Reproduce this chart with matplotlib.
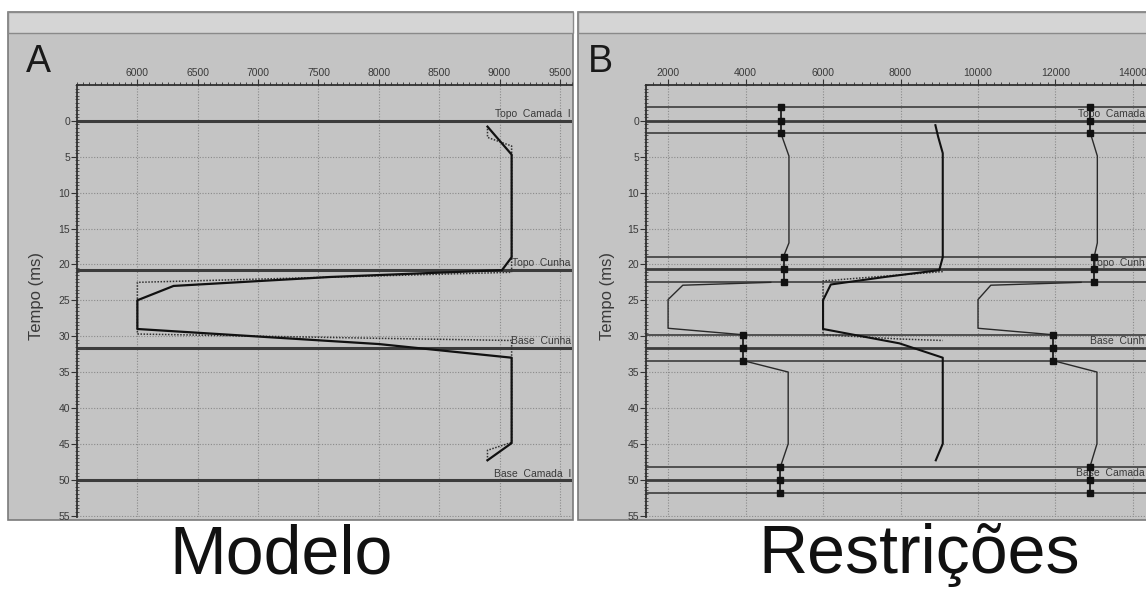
import matplotlib.pyplot as plt
from matplotlib.patches import Rectangle
from matplotlib.ticker import MultipleLocator, FixedLocator
import numpy as np

plt.rcParams['font.family'] = ['Liberation Sans', 'DejaVu Sans']

# ---- data ----
# panel A: model
layer_t = [0.0, 20.8, 31.6, 50.1]
layer_names = ['Topo  Camada  I', 'Topo  Cunha', 'Base  Cunha', 'Base  Camada  I']

model_t = [0.8, 4.7, 19.0, 20.8, 21.75, 23.0, 25.0, 29.0, 31.1, 33.0, 44.9, 47.3]
model_v = [8900, 9100, 9100, 9020, 7600, 6300, 6000, 6000, 8000, 9100, 9100, 8900]

init_t = [1.1, 2.3, 3.5, 21.1, 22.5, 29.7, 30.3, 30.6, 44.8, 45.9, 47.3]
init_v = [8900, 8900, 9100, 9100, 6000, 6000, 8000, 9100, 9100, 8900, 8900]

xticksA = [6000, 6500, 7000, 7500, 8000, 8500, 9000, 9500]
xticksB = [2000, 4000, 6000, 8000, 10000, 12000, 14000]
yticks = [0, 5, 10, 15, 20, 25, 30, 35, 40, 45, 50, 55]

# panel B: constraints
main_t = [0.0, 20.7, 31.6, 50.0]
side_t = [-1.9, 1.7, 18.9, 22.4, 29.8, 33.4, 48.2, 51.8]
# labels as seen, cut by the picture's right edge
names_B = ['Topo  Camada', 'Topo  Cunh', 'Base  Cunh', 'Base  Camada']

# middle curve (same model)
mid_t = [0.6, 2.2, 4.5, 19.0, 20.8, 21.75, 22.8, 25.0, 29.0, 31.0, 33.0, 45.0, 47.3]
mid_v = [8900, 8970, 9090, 9090, 9000, 7600, 6200, 6000, 6000, 7970, 9090, 9090, 8910]
mid_init_t = [21.0, 22.3, 29.8, 30.4, 30.6]
mid_init_v = [9090, 6000, 6000, 8000, 9090]

# left constrained curve
lc_top_t = [1.7, 4.9, 17.0, 18.9]
lc_top_v = [4910, 5120, 5120, 4980]
lc_low_t = [22.5, 22.9, 24.9, 28.9, 29.8]
lc_low_v = [4650, 2380, 2000, 2000, 3930]
lc_bot_t = [33.4, 35.0, 45.0, 48.2]
lc_bot_v = [3930, 5100, 5100, 4900]
lc_mk_t = [[-1.9, 0.0, 1.7], [18.9, 20.7, 22.4], [29.8, 31.6, 33.4], [48.2, 50.0, 51.8]]
lc_mk_v = [4910, 4980, 3930, 4900]

# right constrained curve
rc_top_t = [1.7, 4.9, 17.0, 18.9]
rc_top_v = [12900, 13080, 13080, 13000]
rc_low_t = [22.5, 22.9, 24.9, 28.9, 29.8]
rc_low_v = [12660, 10330, 10000, 10000, 11930]
rc_bot_t = [33.4, 35.0, 45.0, 48.2]
rc_bot_v = [11930, 13070, 13070, 12890]
rc_mk_v = [12900, 13000, 11930, 12890]

W, H = 1146, 589
BG = '#c4c4c4'


def box(x0, y0, x1, y1):
    return [x0 / W, 1 - y1 / H, (x1 - x0) / W, (y1 - y0) / H]


fig = plt.figure(figsize=(W / 100, H / 100), dpi=100)
fig.patch.set_facecolor('white')

# window chrome
for x0, x1 in [(8, 573), (578, 1150)]:
    l, b, w, h = box(x0, 12, x1, 520)
    fig.add_artist(Rectangle((l, b), w, h, transform=fig.transFigure,
                             facecolor=BG, edgecolor='#7a7a7a', lw=1.2, zorder=-2))
    l, b, w, h = box(x0, 12, x1, 33)
    fig.add_artist(Rectangle((l, b), w, h, transform=fig.transFigure,
                             facecolor='#d5d5d5', edgecolor='#8a8a8a', lw=1.0, zorder=-1))


def style_axes(ax, xlim, xt, minor):
    ax.set_facecolor(BG)
    ax.set_xlim(*xlim)
    ax.set_ylim(55.2, -5.0)
    ax.xaxis.set_major_locator(FixedLocator(xt))
    ax.xaxis.set_minor_locator(MultipleLocator(minor))
    ax.yaxis.set_major_locator(FixedLocator(yticks))
    ax.yaxis.set_minor_locator(MultipleLocator(0.5))
    ax.xaxis.tick_top()
    ax.tick_params(axis='x', which='major', direction='out', length=4, width=0.8,
                   labelsize=7.5, labelcolor='#3a3a3a', color='#333', pad=1)
    ax.tick_params(axis='x', which='minor', direction='out', length=2.5, width=0.7, color='#444')
    ax.tick_params(axis='y', which='major', direction='out', length=4, width=0.8,
                   labelsize=7.5, labelcolor='#3a3a3a', color='#333', pad=1)
    ax.tick_params(axis='y', which='minor', direction='inout', length=3, width=0.6, color='#444')
    for s in ['right', 'bottom']:
        ax.spines[s].set_visible(False)
    for s in ['left', 'top']:
        ax.spines[s].set_color('#303030')
        ax.spines[s].set_linewidth(1.3)
    ax.grid(True, which='major', color='#8a8a8a', lw=0.8, linestyle=(0, (1, 1.5)))
    ax.set_axisbelow(True)


# ---- panel A ----
axA = fig.add_axes(box(77, 85, 572, 517))
style_axes(axA, (5500, 9600), xticksA, 50)
for t in layer_t:
    axA.axhline(t, color='#3c3c3c', lw=2.2, zorder=2)
axA.plot(init_v, init_t, color='#333', lw=1.1, linestyle=(0, (1, 1)), zorder=3)
axA.plot(model_v, model_t, color='#111', lw=1.6, zorder=4)
for t, name in zip(layer_t, layer_names):
    axA.text(9590, t - 0.25, name, ha='right', va='bottom', fontsize=7.5, color='#3a3a3a')

# ---- panel B ----
axB = fig.add_axes(box(646, 85, 1157, 517))
style_axes(axB, (1430, 14620), xticksB, 200)
for t in side_t:
    axB.axhline(t, color='#505050', lw=1.4, zorder=2)
for t in main_t:
    axB.axhline(t, color='#3c3c3c', lw=2.0, zorder=2)
for t, name in zip(main_t, names_B):
    axB.annotate(name, xy=(1.0, t), xycoords=('figure fraction', 'data'),
                 xytext=(-1, 1), textcoords='offset points',
                 ha='right', va='bottom', fontsize=7.5, color='#3a3a3a', zorder=3)

axB.plot(mid_init_v, mid_init_t, color='#333', lw=1.1, linestyle=(0, (1, 1)), zorder=3)
axB.plot(mid_v, mid_t, color='#111', lw=1.5, zorder=4)

for tt, vv in [(lc_top_t, lc_top_v), (lc_low_t, lc_low_v), (lc_bot_t, lc_bot_v),
               (rc_top_t, rc_top_v), (rc_low_t, rc_low_v), (rc_bot_t, rc_bot_v)]:
    axB.plot(vv, tt, color='#2a2a2a', lw=1.0, zorder=4)

for mk_v in (lc_mk_v, rc_mk_v):
    for ts, v in zip(lc_mk_t, mk_v):
        axB.plot([v] * len(ts), ts, color='#111', lw=1.2, marker='s',
                 markersize=5, zorder=5)

# ---- texts ----
fig.text(38 / W, 1 - 72 / H, 'A', fontsize=27, ha='center', va='baseline', color='#1a1a1a')
fig.text(600 / W, 1 - 72 / H, 'B', fontsize=27, ha='center', va='baseline', color='#1a1a1a')
fig.text(37 / W, 1 - 296 / H, 'Tempo (ms)', rotation=90, fontsize=12,
         ha='center', va='center', color='#3a3a3a')
fig.text(607 / W, 1 - 296 / H, 'Tempo (ms)', rotation=90, fontsize=12,
         ha='center', va='center', color='#3a3a3a')
fig.text(281 / W, 1 - 573 / H, 'Modelo', fontsize=49, ha='center', va='baseline', color='#111')
fig.text(919 / W, 1 - 573 / H, 'Restrições', fontsize=49, ha='center', va='baseline', color='#111')

fig.savefig('out.png', dpi=100)
